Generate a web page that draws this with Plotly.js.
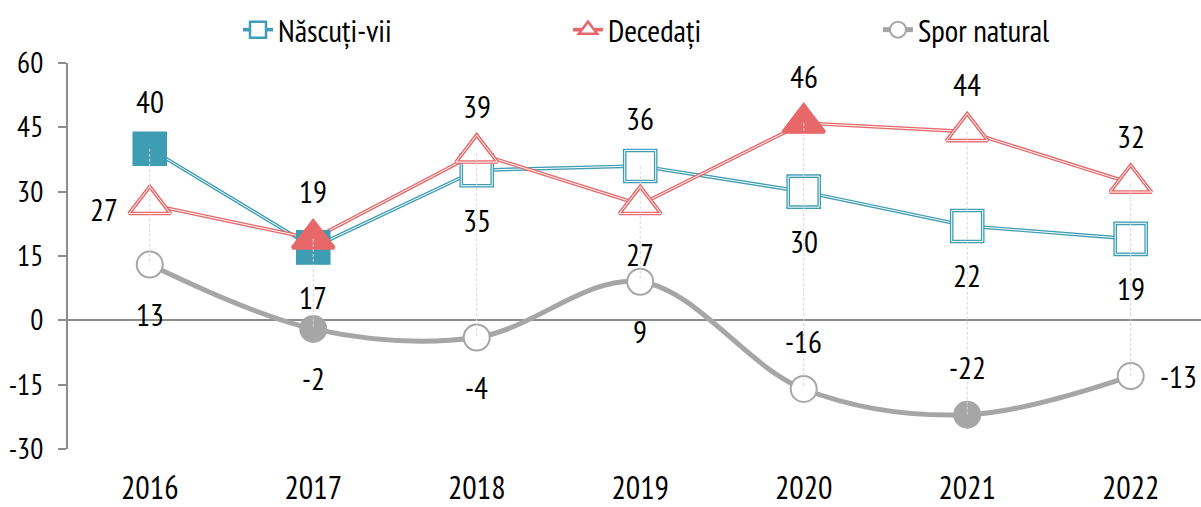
<!DOCTYPE html>
<html>
<head>
<meta charset="utf-8">
<script src="https://cdn.plot.ly/plotly-3.0.1.min.js"></script>
<style>html,body{margin:0;padding:0;background:#fff;}#chart{width:1201px;height:507px;}</style>
</head>
<body>
<div id="chart"></div>
<script>
// ---- data ----
const years = ['2016', '2017', '2018', '2019', '2020', '2021', '2022'];
const nascuti = [40, 17, 35, 36, 30, 22, 19];
const decedati = [27, 19, 39, 27, 46, 44, 32];
const spor = [13, -2, -4, 9, -16, -22, -13];
const seriesNames = ['Născuți-vii', 'Decedați', 'Spor natural'];
const yTicks = [-30, -15, 0, 15, 30, 45, 60];

// ---- styles ----
const FONT = 'PT Sans Narrow, Roboto Condensed, sans-serif';
const TEAL = '#3F9DB3';
const RED = '#E8686A';
const GRAY = '#A6A6A6';
const AXIS = '#8C8C8C';
const filledIdx = { n: [0, 1], d: [1, 4], s: [1, 5] };
const labelPos = {
  n: ['above', 'below', 'below', 'above', 'below', 'below', 'below'],
  d: ['left', 'above', 'above', 'below', 'above', 'above', 'above'],
  s: ['below', 'below', 'below', 'below', 'above', 'above', 'right']
};

function fillArr(key, color) {
  return years.map((_, i) => filledIdx[key].includes(i) ? color : '#FFFFFF');
}
function innerLineArr(key) {
  return years.map((_, i) => filledIdx[key].includes(i) ? 'rgba(0,0,0,0)' : '#FFFFFF');
}

const traces = [];

function lineTrace(y, name, color, symbol, size, legend) {
  return {
    x: years, y: y, name: name, type: 'scatter', mode: 'lines+markers',
    line: { color: color, width: 3.6 },
    marker: { symbol: symbol, size: size, color: '#FFFFFF', line: { color: color, width: 2.5 } },
    legend: legend, hoverinfo: 'skip', cliponaxis: false
  };
}
function whiteLine(y) {
  return {
    x: years, y: y, type: 'scatter', mode: 'lines', showlegend: false,
    line: { color: '#FFFFFF', width: 1 }, hoverinfo: 'skip'
  };
}
traces.push(lineTrace(nascuti, seriesNames[0], TEAL, 'square', 31, 'legend'));
traces.push(whiteLine(nascuti));
traces.push(lineTrace(decedati, seriesNames[1], RED, 'triangle-up', 36, 'legend2'));
traces.push(whiteLine(decedati));
traces.push({
  x: years, y: spor, name: seriesNames[2], type: 'scatter', mode: 'lines+markers',
  line: { color: GRAY, width: 5, shape: 'spline', smoothing: 1 },
  marker: { symbol: 'circle', size: 26, color: fillArr('s', GRAY), line: { color: GRAY, width: 2 } },
  legend: 'legend3', hoverinfo: 'skip', cliponaxis: false
});

function markerTrace(y, key, color, symbol, size) {
  return [{
    x: years, y: y, type: 'scatter', mode: 'markers', showlegend: false, hoverinfo: 'skip', cliponaxis: false,
    marker: { symbol: symbol, size: size, color: fillArr(key, color), line: { color: color, width: 3.6 } }
  }, {
    x: years, y: y, type: 'scatter', mode: 'markers', showlegend: false, hoverinfo: 'skip', cliponaxis: false,
    marker: { symbol: symbol, size: size, color: 'rgba(0,0,0,0)', line: { color: innerLineArr(key), width: 1 } }
  }];
}
traces.push(...markerTrace(nascuti, 'n', TEAL, 'square', 31));
traces.push(...markerTrace(decedati, 'd', RED, 'triangle-up', 36));

// high-low drop lines
const hlX = [], hlY = [];
years.forEach((yr, i) => {
  const vals = [nascuti[i], decedati[i], spor[i]];
  hlX.push(yr, yr, null);
  hlY.push(Math.max(...vals), Math.min(...vals), null);
});
traces.push({
  x: hlX, y: hlY, type: 'scatter', mode: 'lines', showlegend: false, hoverinfo: 'skip',
  line: { color: '#D6D6D6', width: 1, dash: '3px,2px' }
});

// data labels
const annotations = [];
function addLabels(y, key) {
  y.forEach((v, i) => {
    const p = labelPos[key][i];
    let xs = 0, ys = 0;
    if (p === 'above') ys = 47;
    else if (p === 'below') ys = -50;
    else if (p === 'left') { xs = -46; ys = -5; }
    else if (p === 'right') { xs = 48; }
    annotations.push({
      xref: 'x', yref: 'y', x: i, y: v, text: String(v), showarrow: false,
      xshift: xs, yshift: ys, font: { size: 31, color: '#000000', family: FONT }
    });
  });
}
addLabels(nascuti, 'n');
addLabels(decedati, 'd');
addLabels(spor, 's');

function legendAt(xpx) {
  return {
    orientation: 'h', xref: 'container', yref: 'container',
    x: xpx / 1201, y: 1 - 30 / 507, xanchor: 'left', yanchor: 'middle',
    bgcolor: 'rgba(0,0,0,0)', font: { size: 31, family: FONT, color: '#000' }
  };
}

const layout = {
  width: 1201, height: 507,
  margin: { l: 68, r: 0, t: 63, b: 58 },
  paper_bgcolor: '#FFFFFF', plot_bgcolor: '#FFFFFF',
  font: { family: FONT, color: '#000' },
  showlegend: true,
  legend: legendAt(238),
  legend2: legendAt(568),
  legend3: legendAt(878),
  xaxis: {
    type: 'category', range: [-0.5, 6.43], showgrid: false, zeroline: false, showline: false,
    ticks: '', tickfont: { size: 32, family: FONT, color: '#000' }, ticklabelstandoff: 17, fixedrange: true
  },
  yaxis: {
    range: [-30, 60], tickmode: 'array', tickvals: yTicks, ticktext: yTicks.map(String),
    showgrid: false, zeroline: true, zerolinecolor: AXIS, zerolinewidth: 2,
    showline: true, linecolor: AXIS, linewidth: 2,
    ticks: 'outside', ticklen: 8, tickwidth: 2, tickcolor: AXIS, ticklabelstandoff: 9,
    tickfont: { size: 29, family: FONT, color: '#000' }, fixedrange: true
  },
  annotations: annotations
};

Plotly.newPlot('chart', traces, layout, { displayModeBar: false });
</script>
</body>
</html>
